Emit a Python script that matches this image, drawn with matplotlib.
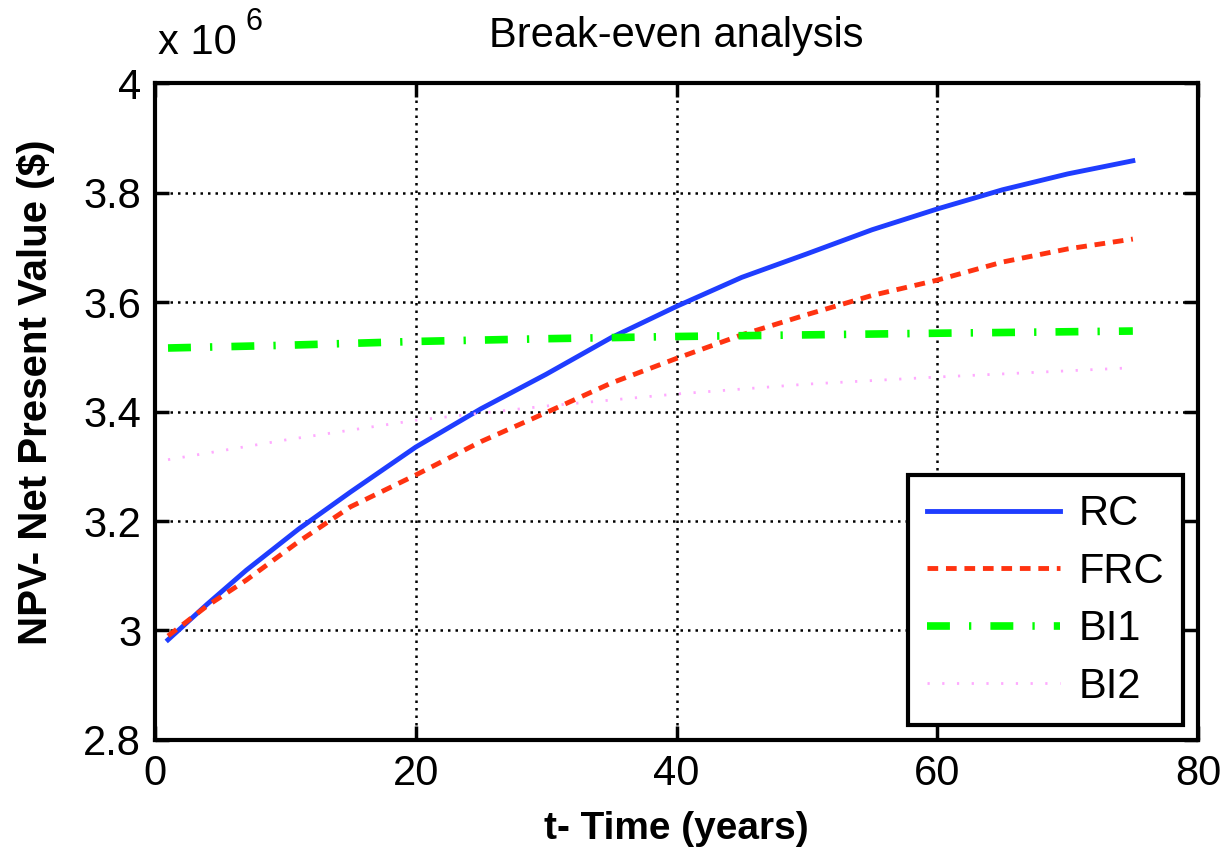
import numpy as np
import matplotlib
matplotlib.use('Agg')
import matplotlib.pyplot as plt

plt.rcParams['font.family'] = ['Liberation Sans', 'DejaVu Sans']

## values (in units of 1e6 $)
t_rc = [1, 4, 7, 11, 15, 20, 25, 30, 35, 40, 45, 50, 55, 60, 65, 70, 75]
rc = [2.983, 3.048, 3.110, 3.185, 3.253, 3.335, 3.405, 3.468, 3.535, 3.592,
      3.645, 3.688, 3.732, 3.770, 3.805, 3.834, 3.858]

t_frc = [1, 4, 7, 11, 15, 20, 25, 30, 35, 40, 45, 50, 55, 60, 65, 70, 75]
frc = [2.990, 3.045, 3.092, 3.162, 3.226, 3.284, 3.345, 3.398, 3.452, 3.497,
       3.540, 3.577, 3.612, 3.640, 3.673, 3.697, 3.715]

t_bi1 = [1, 10, 20, 30, 40, 50, 60, 75]
bi1 = [3.516, 3.521, 3.528, 3.533, 3.537, 3.540, 3.543, 3.547]

t_bi2 = [1, 10, 20, 30, 40, 50, 60, 75]
bi2 = [3.312, 3.348, 3.384, 3.410, 3.432, 3.450, 3.463, 3.480]

x_ticks = [0, 20, 40, 60, 80]
y_ticks = [2.8, 3.0, 3.2, 3.4, 3.6, 3.8, 4.0]
y_tick_labels = ['2.8', '3', '3.2', '3.4', '3.6', '3.8', '4']

fig = plt.figure(figsize=(12.28, 8.49), dpi=100)
ax = fig.add_axes([0.1262, 0.1284, 0.8494, 0.7738])

ax.plot(t_rc, rc, color='#1f3dff', lw=3.5, ls='-', label='RC')
ax.plot(t_frc, frc, color='#ff3311', lw=3.5, ls=(0, (2.2, 1.6)), label='FRC')
ax.plot(t_bi1, bi1, color='#00ff00', lw=5.5, ls=(0, (3, 2.5, 0.3, 2.5)), label='BI1')
ax.plot(t_bi2, bi2, color='#ffaaff', lw=2, ls=(0, (0.8, 4.5)), label='BI2')

ax.set_xlim(0, 80)
ax.set_ylim(2.8, 4.0)
ax.set_xticks(x_ticks)
ax.set_yticks(y_ticks)
ax.set_yticklabels(y_tick_labels)
ax.tick_params(direction='in', length=10, width=2.5, labelsize=30,
               top=True, right=True, pad=10)
for s in ax.spines.values():
    s.set_linewidth(3)

ax.grid(True, color='black', ls=(0, (1, 2)), lw=1.8)

ax.set_title('Break-even analysis', fontsize=30, pad=26)
ax.set_xlabel('t- Time (years)', fontsize=28, fontweight='bold', labelpad=12)
ax.set_ylabel('NPV- Net Present Value ($)', fontsize=29, fontweight='bold')
ax.yaxis.set_label_coords(-0.096, 0.53)

## exponent label like matlab
ax.text(0.003, 1.03, 'x 10', transform=ax.transAxes, fontsize=30, ha='left', va='bottom')
ax.text(0.087, 1.07, '6', transform=ax.transAxes, fontsize=22, ha='left', va='bottom')

leg = ax.legend(loc='lower right', fontsize=30, frameon=True, fancybox=False,
                edgecolor='black', framealpha=1, handlelength=3.2,
                borderaxespad=0.35, labelspacing=0.42, handletextpad=0.45,
                borderpad=0.45)
leg.get_frame().set_linewidth(3)

fig.savefig('out.png', dpi=100)
